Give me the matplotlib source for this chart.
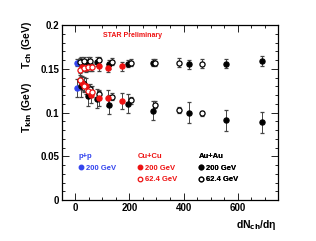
import matplotlib
matplotlib.use('Agg')
import matplotlib.pyplot as plt
from matplotlib.lines import Line2D
from matplotlib.ticker import MultipleLocator

plt.rcParams['font.family'] = ['Liberation Sans', 'DejaVu Sans']
plt.rcParams['font.weight'] = 'bold'

# ---- data ----
pp_x = [5]
pp_tch = [0.157]
pp_tch_err = [0.004]
pp_tkin = [0.128]
pp_tkin_err = [0.010]

cu200_x = [25, 40, 59, 89, 120, 172]
cu200_tch = [0.152, 0.151, 0.152, 0.153, 0.151, 0.153]
cu200_tch_err = [0.005, 0.005, 0.005, 0.005, 0.005, 0.005]
cu200_tkin = [0.134, 0.130, 0.120, 0.117, 0.117, 0.113]
cu200_tkin_err = [0.008, 0.009, 0.009, 0.009, 0.009, 0.009]

cu62_x = [16, 30, 46, 62]
cu62_tch = [0.149, 0.151, 0.152, 0.152]
cu62_tch_err = [0.004, 0.004, 0.004, 0.004]
cu62_tkin = [0.137, 0.130, 0.125, 0.124]
cu62_tkin_err = [0.006, 0.006, 0.006, 0.006]

au200_x = [22, 47, 78, 126, 195, 288, 421, 558, 689]
au200_tch = [0.158, 0.158, 0.158, 0.155, 0.156, 0.157, 0.155, 0.156, 0.159]
au200_tch_err = [0.005, 0.005, 0.005, 0.005, 0.004, 0.004, 0.005, 0.005, 0.006]
au200_tkin = [0.130, 0.119, 0.116, 0.109, 0.110, 0.102, 0.100, 0.091, 0.089]
au200_tkin_err = [0.012, 0.012, 0.011, 0.011, 0.011, 0.011, 0.012, 0.012, 0.012]

au62_x = [18, 32, 55, 88, 135, 205, 293, 383, 470]
au62_tch = [0.158, 0.159, 0.159, 0.160, 0.158, 0.157, 0.157, 0.157, 0.156]
au62_tch_err = [0.004, 0.004, 0.004, 0.004, 0.004, 0.004, 0.004, 0.005, 0.005]
au62_tkin = [0.137, 0.133, 0.127, 0.121, 0.118, 0.114, 0.109, 0.103, 0.099]
au62_tkin_err = [0.010, 0.008, 0.006, 0.004, 0.004, 0.004, 0.004, 0.003, 0.003]

BLUE = '#3344ee'
RED = '#ee1111'

fig = plt.figure(figsize=(3.16, 2.41), dpi=100)
ax = fig.add_axes([0.196, 0.170, 0.684, 0.726])

series = [
    (pp_x, pp_tch, pp_tch_err, pp_tkin, pp_tkin_err, BLUE, True),
    (au200_x, au200_tch, au200_tch_err, au200_tkin, au200_tkin_err, 'black', True),
    (au62_x, au62_tch, au62_tch_err, au62_tkin, au62_tkin_err, 'black', False),
    (cu200_x, cu200_tch, cu200_tch_err, cu200_tkin, cu200_tkin_err, RED, True),
    (cu62_x, cu62_tch, cu62_tch_err, cu62_tkin, cu62_tkin_err, RED, False),
]

for x, tch, tch_e, tkin, tkin_e, col, filled in series:
    face = col if filled else 'white'
    for y, e in [(tch, tch_e), (tkin, tkin_e)]:
        ax.errorbar(x, y, yerr=e, fmt='o', ms=3.7, mfc=face, mec=col, mew=0.9,
                    ecolor='#444444', elinewidth=0.7, capsize=1.2, capthick=0.7)

ax.set_xlim(-50, 750)
ax.set_ylim(0, 0.2)
ax.xaxis.set_major_locator(MultipleLocator(200))
ax.xaxis.set_minor_locator(MultipleLocator(50))
ax.yaxis.set_major_locator(MultipleLocator(0.05))
ax.yaxis.set_minor_locator(MultipleLocator(0.01))
ax.set_yticks([0, 0.05, 0.1, 0.15, 0.2])
ax.set_yticklabels(['0', '0.05', '0.1', '0.15', '0.2'])
ax.tick_params(which='both', direction='in', top=True, right=True,
               labelsize=7, width=0.6, pad=2)
ax.tick_params(which='major', length=5)
ax.tick_params(which='minor', length=2.5)
for s in ax.spines.values():
    s.set_linewidth(0.9)

ax.text(0.19, 0.94, 'STAR Preliminary', transform=ax.transAxes,
        color=RED, fontsize=5, fontweight='bold', va='center')

# y labels
fig.text(0.085, 0.815, r'T$_{\rm ch}$ (GeV)', rotation=90, ha='center',
         va='center', fontsize=7.5, fontweight='bold')
fig.text(0.085, 0.555, r'T$_{\rm kin}$ (GeV)', rotation=90, ha='center',
         va='center', fontsize=7.5, fontweight='bold')
fig.text(0.877, 0.065, 'dN$_{\\rm ch}$/dη', ha='right', va='center',
         fontsize=7.5, fontweight='bold')

# legends
def mk(col, filled):
    return Line2D([], [], ls='none', marker='o', ms=3.3, mfc=col if filled else 'white',
                  mec=col, mew=0.9)

blocks = [
    ('p+p', BLUE, [(mk(BLUE, True), '200 GeV')], 0.06),
    ('Cu+Cu', RED, [(mk(RED, True), '200 GeV'), (mk(RED, False), '62.4 GeV')], 0.335),
    ('Au+Au', 'black', [(mk('black', True), '200 GeV'), (mk('black', False), '62.4 GeV')], 0.615),
]
for title, col, entries, xpos in blocks:
    leg = ax.legend([h for h, _ in entries], [t for _, t in entries], title=title,
                    loc='upper left', bbox_to_anchor=(xpos, 0.29), frameon=False,
                    fontsize=5.5, title_fontsize=5.5, handlelength=0.6,
                    handletextpad=0.3, labelspacing=0.55, borderpad=0,
                    alignment='left')
    leg.get_title().set_color(col)
    leg.get_title().set_fontweight('bold')
    leg._legend_title_box.set_offset  # keep default placement
    for t in leg.get_texts():
        t.set_color(col)
        t.set_fontweight('bold')
    ax.add_artist(leg)

fig.savefig('out.png', dpi=100)
